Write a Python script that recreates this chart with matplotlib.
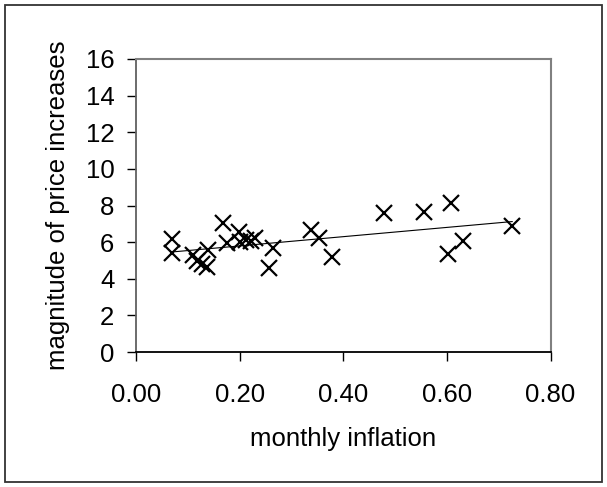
import numpy as np
import matplotlib.pyplot as plt
from matplotlib.patches import Rectangle

plt.rcParams['font.family'] = ['Liberation Sans', 'DejaVu Sans']

# monthly inflation vs. magnitude of price increases
inflation = [0.070, 0.070, 0.111, 0.118, 0.128, 0.137, 0.139, 0.167, 0.176,
             0.198, 0.201, 0.213, 0.222, 0.230, 0.256, 0.265, 0.337, 0.354,
             0.378, 0.478, 0.556, 0.607, 0.603, 0.631, 0.726]
magnitude = [6.17, 5.39, 5.30, 4.97, 4.79, 4.66, 5.57, 7.03, 5.94,
             6.57, 6.02, 6.12, 6.05, 6.21, 4.57, 5.70, 6.66, 6.24,
             5.21, 7.61, 7.66, 8.12, 5.33, 6.06, 6.90]
xticks = [0.0, 0.2, 0.4, 0.6, 0.8]
yticks = list(range(0, 17, 2))

fs = 18.5

fig = plt.figure(figsize=(6.07, 4.87), dpi=100)
ax = fig.add_axes([0.224, 0.277, 0.683, 0.602])

ax.plot(inflation, magnitude, ls='none', marker='x', color='black',
        markersize=11, markeredgewidth=1.6)

# linear trend line over the data range
k, b = np.polyfit(inflation, magnitude, 1)
xs = np.array([min(inflation), max(inflation)])
ax.plot(xs, k * xs + b, color='black', lw=0.8)

ax.set_xlim(0, 0.8)
ax.set_ylim(0, 16)
ax.set_xticks(xticks)
ax.set_xticklabels(['%.2f' % t for t in xticks])
ax.set_yticks(yticks)
ax.tick_params(direction='out', length=6.5, width=1, labelsize=fs)
ax.tick_params(axis='x', pad=16)
ax.tick_params(axis='y', pad=9)
ax.set_xlabel('monthly inflation', fontsize=fs, labelpad=14)
ax.set_ylabel('magnitude of price increases', fontsize=fs, labelpad=11)

for side in ['top', 'right']:
    ax.spines[side].set_color('#808080')
    ax.spines[side].set_linewidth(1.5)
for side in ['left', 'bottom']:
    ax.spines[side].set_color('black')
    ax.spines[side].set_linewidth(1.3)
ax.spines['left'].set_color('#606060')

# chart border
fig.patches.append(Rectangle((0.008, 0.01), 0.984, 0.98, transform=fig.transFigure,
                             fill=False, edgecolor='#333333', lw=1.3))

fig.savefig('out.png', dpi=100)
